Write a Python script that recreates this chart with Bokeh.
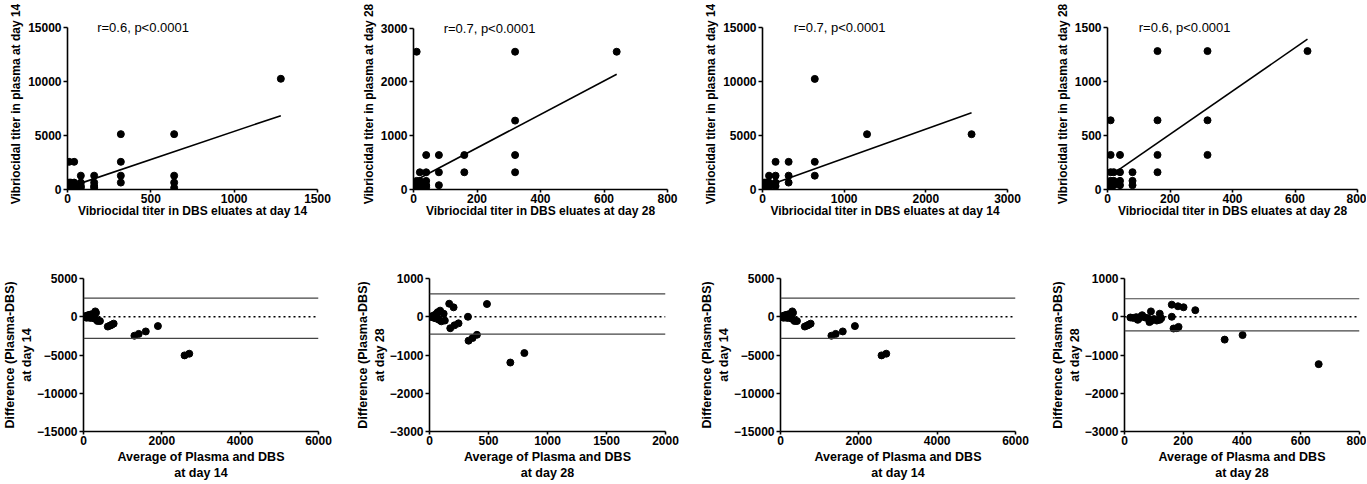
from bokeh.plotting import figure
from bokeh.layouts import column, row
from bokeh.models import Range1d, FixedTicker, Label, Span
from bokeh.embed import file_html
from bokeh.resources import INLINE

FONT = "Liberation Sans"

# ---------------- data ----------------
# Panel A: DBS day 14 (x) vs plasma day 14 (y)
a_dbs = [10, 10, 10, 10, 10, 10, 20, 20, 20, 20, 40, 40, 40, 40, 40,
         80, 80, 80, 80, 160, 160, 160, 160, 320, 320, 320, 320,
         640, 640, 640, 640, 1280]
a_plasma = [2560, 640, 320, 160, 80, 40, 640, 320, 160, 80, 2560, 640, 320, 160, 80,
            1280, 640, 320, 160, 1280, 640, 320, 160, 5120, 2560, 1280, 640,
            5120, 1280, 640, 160, 10240]
a_fit_x = [10, 1280]
a_fit_y = [220, 6830]

# Panel B: DBS day 28 vs plasma day 28
b_dbs = [10, 10, 10, 10, 10, 20, 20, 20, 20, 40, 40, 40, 40, 40,
         80, 80, 80, 160, 160, 320, 320, 320, 320, 640]
b_plasma = [2560, 160, 80, 40, 20, 320, 160, 80, 40, 640, 320, 160, 80, 40,
            640, 320, 80, 640, 320, 2560, 1280, 640, 320, 2560]
b_fit_x = [10, 640]
b_fit_y = [182, 2141]

# Panel C: DBS day 14 vs plasma day 14 (second set)
c_dbs = [10, 10, 10, 10, 20, 20, 20, 40, 40, 40, 40, 80, 80, 80, 80,
         160, 160, 160, 160, 320, 320, 320, 640, 640, 640, 1280, 2560]
c_plasma = [320, 160, 80, 40, 640, 320, 160, 640, 320, 160, 80, 1280, 640, 320, 160,
            2560, 1280, 640, 320, 2560, 1280, 640, 10240, 2560, 1280, 5120, 5120]
c_fit_x = [10, 2560]
c_fit_y = [217, 7100]

# Panel D: DBS day 28 vs plasma day 28 (second set)
d_dbs = [10, 10, 10, 10, 10, 10, 10, 20, 20, 20, 40, 40, 40, 40,
         80, 80, 80, 160, 160, 160, 160, 320, 320, 320, 640]
d_plasma = [640, 320, 160, 80, 40, 20, 10, 160, 80, 40, 320, 160, 80, 40,
            160, 80, 40, 1280, 640, 320, 160, 1280, 640, 320, 1280]
d_fit_x = [10, 640]
d_fit_y = [130, 1390]

# Bland-Altman day 14
e_avg = [15, 25, 40, 50, 60, 80, 100, 120, 140, 160, 180, 200, 240, 280, 300,
         320, 340, 360, 420, 620, 680, 720, 770, 1300, 1410, 1590, 1900, 2580, 2700]
e_diff = [0, -30, 40, -60, 80, -120, 160, -80, 240, 0, -160, 320, 200, -240, 700,
          520, -420, -560, -560, -1280, -1150, -1050, -900, -2480, -2240, -1920, -1220,
          -5050, -4830]
e_upper, e_lower, e_zero = 2436, -2820, 0

# Bland-Altman day 28
f_avg = [10, 20, 30, 40, 50, 60, 70, 80, 90, 100, 120, 130,
         167, 204, 326, 487, 176, 212, 246, 331, 365, 402, 685, 804]
f_diff = [0, 10, -20, 40, -40, 80, 120, -80, 160, -120, 80, -100,
          341, 246, 0, 333, -300, -223, -172, -626, -556, -472, -1197, -949]
f_upper, f_lower, f_zero = 598, -453, 0

# Bland-Altman day 14 (second set)
g_avg = list(e_avg)
g_diff = list(e_diff)
g_upper, g_lower, g_zero = 2436, -2820, 0

# Bland-Altman day 28 (second set)
h_avg = [20, 30, 40, 45, 50, 55, 60, 70, 80, 85, 90, 90, 100, 110, 120, 120, 125,
         161, 161, 167, 182, 178, 184, 201, 241, 341, 402, 661]
h_diff = [-20, -30, -10, -80, -40, 0, 40, -20, -40, -140, 140, -110, -60, -100, 80, -80, -40,
          316, 0, -308, 274, -299, -265, 248, 171, -598, -479, -1239]
h_upper, h_lower, h_zero = 470, -368, 0


def make(width, height, left, right, top, bottom, xr, yr, xticks, yticks,
         xlabel, ylabel, label_size, y_extra_px=0, x_label_standoff=-2, y_label_standoff=2):
    # y_extra_px: head room above the axis top (axis line stops at yr[1])
    y0, y1 = yr
    frame_h = height - top - bottom
    data_h = frame_h - y_extra_px
    y_end = y1 + (y1 - y0) * y_extra_px / data_h
    p = figure(width=width, height=height, output_backend="svg", toolbar_location=None,
               x_range=Range1d(*xr), y_range=Range1d(y0, y_end),
               min_border_left=left, min_border_right=right,
               min_border_top=top, min_border_bottom=bottom)
    p.xaxis.ticker = FixedTicker(ticks=xticks)
    p.yaxis.ticker = FixedTicker(ticks=yticks)
    p.yaxis.bounds = (y0, y1)
    p.xaxis.axis_label = xlabel
    p.yaxis.axis_label = ylabel
    for ax in (p.xaxis[0], p.yaxis[0]):
        ax.axis_line_width = 1.6
        ax.axis_line_color = "black"
        ax.major_tick_line_width = 1.6
        ax.major_tick_line_color = "black"
        ax.major_tick_out = 4
        ax.major_tick_in = 0
        ax.minor_tick_line_color = None
        ax.major_label_text_font = FONT
        ax.major_label_text_font_style = "bold"
        ax.major_label_text_font_size = "12px"
        ax.major_label_text_color = "black"
        ax.axis_label_text_font = FONT
        ax.axis_label_text_font_style = "bold"
        ax.axis_label_text_font_size = label_size
        ax.axis_label_text_color = "black"
        ax.major_label_standoff = 2
    p.xaxis.major_tick_out = 3
    p.xaxis.major_label_standoff = 1
    p.xaxis.axis_label_standoff = x_label_standoff
    p.yaxis.axis_label_standoff = y_label_standoff
    p.grid.visible = False
    p.outline_line_color = None
    p.background_fill_color = "white"
    p.border_fill_color = "white"
    return p


def scatter_panel(p, x, y, fx, fy, text, tx, ty):
    p.line(fx, fy, line_color="black", line_width=1.6)
    p.scatter(x, y, size=7, color="black")
    p.add_layout(Label(x=tx, y=ty, text=text, text_font=FONT, text_font_size="13px",
                       text_baseline="middle", text_color="black"))


def ba_panel(p, x, y, upper, lower, zero):
    p.add_layout(Span(location=upper, dimension="width", line_color="#444444", line_width=1.2))
    p.add_layout(Span(location=lower, dimension="width", line_color="#444444", line_width=1.2))
    p.add_layout(Span(location=zero, dimension="width", line_color="black", line_width=1.5,
                      line_dash="2 3"))
    p.scatter(x, y, size=7, color="black")


TOP_H = 234
BOT_H = 249

p1 = make(340, TOP_H, 67, 23, 18, 41, (0, 1500), (0, 15000), [0, 500, 1000, 1500],
          [0, 5000, 10000, 15000], "Vibriocidal titer in DBS eluates at day 14",
          "Vibriocidal titer in plasma at day 14", "12px", y_extra_px=9)
scatter_panel(p1, a_dbs, a_plasma, a_fit_x, a_fit_y, "r=0.6, p<0.0001", 178, 15000)

p2 = make(350, TOP_H, 73, 23, 18, 37, (0, 800), (0, 3000), [0, 200, 400, 600, 800],
          [0, 1000, 2000, 3000], "Vibriocidal titer in DBS eluates at day 28",
          "Vibriocidal titer in plasma at day 28", "12px", y_extra_px=10)
scatter_panel(p2, b_dbs, b_plasma, b_fit_x, b_fit_y, "r=0.7, p<0.0001", 95, 3000)

p3 = make(340, TOP_H, 72, 23, 18, 45, (0, 3000), (0, 15000), [0, 1000, 2000, 3000],
          [0, 5000, 10000, 15000], "Vibriocidal titer in DBS eluates at day 14",
          "Vibriocidal titer in plasma at day 14", "12px", y_extra_px=9)
scatter_panel(p3, c_dbs, c_plasma, c_fit_x, c_fit_y, "r=0.7, p<0.0001", 383, 15000)

p4 = make(336, TOP_H, 77, 9, 18, 41, (0, 800), (0, 1500), [0, 200, 400, 600, 800],
          [0, 500, 1000, 1500], "Vibriocidal titer in DBS eluates at day 28",
          "Vibriocidal titer in plasma at day 28", "12px", y_extra_px=9)
scatter_panel(p4, d_dbs, d_plasma, d_fit_x, d_fit_y, "r=0.6, p<0.0001", 100, 1500)

BL = dict(x_label_standoff=2, y_label_standoff=0)

p5 = make(340, BOT_H, 83, 22, 44, 51, (0, 6000), (-15000, 5000), [0, 2000, 4000, 6000],
          [-15000, -10000, -5000, 0, 5000], "Average of Plasma and DBS\nat day 14",
          "Difference (Plasma-DBS)\nat day 14", "12.5px", **BL)
ba_panel(p5, e_avg, e_diff, e_upper, e_lower, e_zero)

p6 = make(350, BOT_H, 89, 25, 44, 51, (0, 2000), (-3000, 1000), [0, 500, 1000, 1500, 2000],
          [-3000, -2000, -1000, 0, 1000], "Average of Plasma and DBS\nat day 28",
          "Difference (Plasma-DBS)\nat day 28", "12.5px", **BL)
ba_panel(p6, f_avg, f_diff, f_upper, f_lower, f_zero)

p7 = make(340, BOT_H, 90, 15, 44, 51, (0, 6000), (-15000, 5000), [0, 2000, 4000, 6000],
          [-15000, -10000, -5000, 0, 5000], "Average of Plasma and DBS\nat day 14",
          "Difference (Plasma-DBS)\nat day 14", "12.5px", **BL)
ba_panel(p7, g_avg, g_diff, g_upper, g_lower, g_zero)

p8 = make(336, BOT_H, 94, 7, 44, 51, (0, 800), (-3000, 1000), [0, 200, 400, 600, 800],
          [-3000, -2000, -1000, 0, 1000], "Average of Plasma and DBS\nat day 28",
          "Difference (Plasma-DBS)\nat day 28", "12.5px", **BL)
ba_panel(p8, h_avg, h_diff, h_upper, h_lower, h_zero)

layout = column(row(p1, p2, p3, p4, spacing=0), row(p5, p6, p7, p8, spacing=0), spacing=0)

open("out.html", "w").write(file_html(layout, INLINE))
